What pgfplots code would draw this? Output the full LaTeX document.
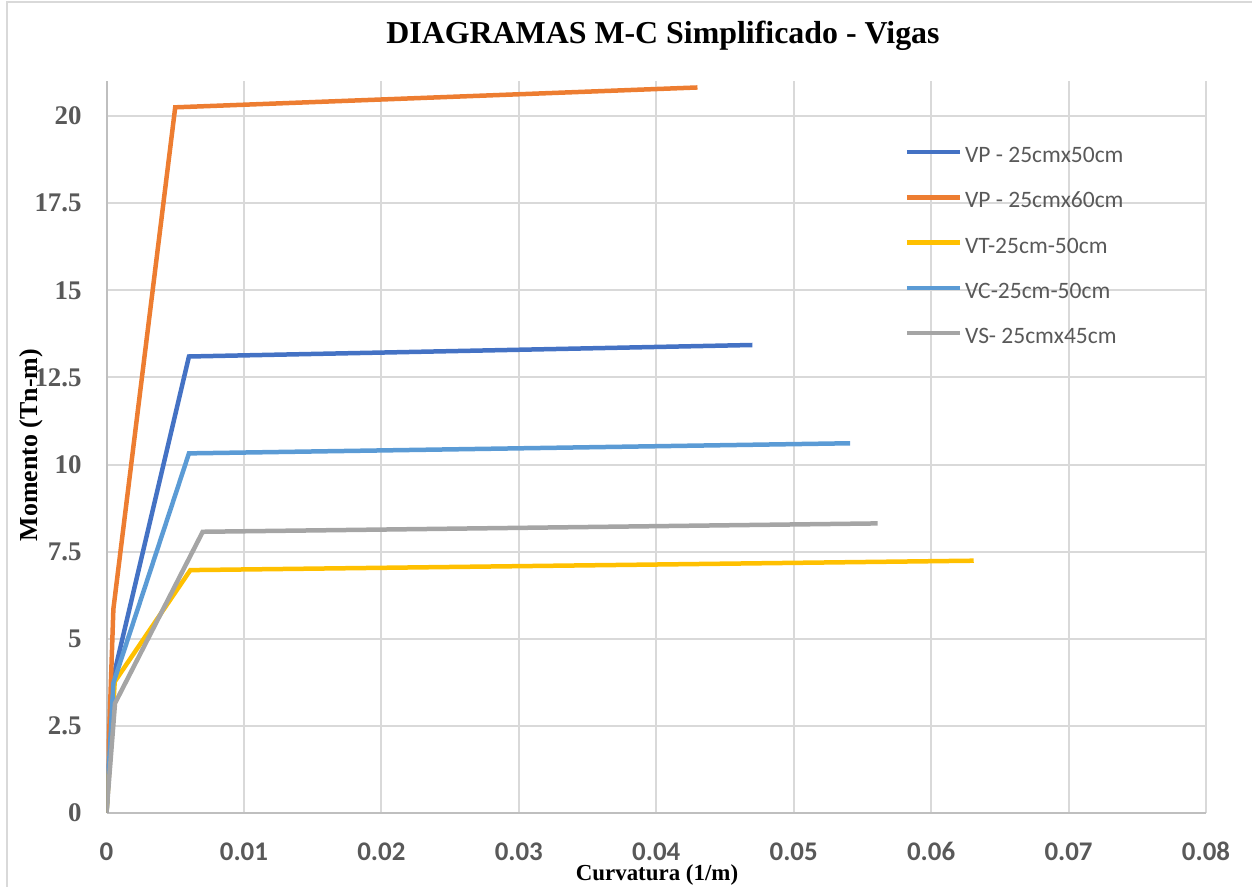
\documentclass[border=0pt]{standalone}
\usepackage{pgfplots}
\pgfplotsset{compat=1.18}
\usepackage{fontspec}
\setmainfont{Liberation Serif}
\newfontfamily\calibri{Carlito}

\definecolor{sblue}{HTML}{4472C4}
\definecolor{sorange}{HTML}{ED7D31}
\definecolor{syellow}{HTML}{FFC000}
\definecolor{slblue}{HTML}{5B9BD5}
\definecolor{sgray}{HTML}{A5A5A5}
\definecolor{gridc}{HTML}{D9D9D9}
\definecolor{axisc}{HTML}{BFBFBF}
\definecolor{tickc}{HTML}{595959}

\begin{document}
\begin{tikzpicture}
\path[use as bounding box] (0,0) rectangle (626bp,443.5bp);
% chart frame
\draw[gridc, line width=1bp] (3.5bp,0) -- (3.5bp,442.5bp) -- (626bp,442.5bp);

\begin{axis}[
  at={(53.25bp,37bp)}, anchor=south west,
  scale only axis, width=549.75bp, height=365.9bp,
  xmin=0, xmax=0.08, ymin=0, ymax=21,
  xtick={0,0.01,0.02,0.03,0.04,0.05,0.06,0.07,0.08},
  xticklabels={0,0.01,0.02,0.03,0.04,0.05,0.06,0.07,0.08},
  ytick={0,2.5,5,7.5,10,12.5,15,17.5,20},
  yticklabels={0,2.5,5,7.5,10,12.5,15,17.5,20},
  /pgf/number format/assume math mode=true,
  major tick length=0pt,
  axis lines=left,
  axis line style={-, draw=axisc, line width=1bp},
  grid=major,
  major grid style={draw=gridc, line width=1bp},
  xticklabel style={font=\calibri\bfseries\fontsize{13.5}{16}\selectfont, text=tickc, anchor=north, inner sep=0pt, yshift=-14.5bp},
  yticklabel style={font=\bfseries\fontsize{13.5}{16}\selectfont, text=tickc, anchor=east, inner sep=0pt, xshift=-12.25bp},
  every axis plot/.append style={line width=2.25bp},
  legend image code/.code={\draw[#1] (0bp,2.7bp) -- (26.5bp,2.7bp);},
  legend cell align=left,
  legend style={draw=none, fill=none, at={(0.7255,0.9114)}, anchor=north west,
    inner sep=0pt, row sep=11.65bp, column sep=1.5bp,
    font=\calibri\fontsize{11.8}{14}\selectfont, text=tickc,
    nodes={inner sep=0pt, text height=8bp, text depth=3bp}},
]
\addplot[sblue] coordinates {(0,0) (0.0005,3.9) (0.006,13.1) (0.047,13.43)};
\addlegendentry{VP - 25cmx50cm}
\addplot[sorange] coordinates {(0,0) (0.0005,5.85) (0.005,20.25) (0.043,20.82)};
\addlegendentry{VP - 25cmx60cm}
\addplot[syellow] coordinates {(0,0) (0.0006,3.77) (0.0061,6.97) (0.0631,7.24)};
\addlegendentry{VT-25cm-50cm}
\addplot[slblue] coordinates {(0,0) (0.0005,3.73) (0.006,10.32) (0.0541,10.61)};
\addlegendentry{VC-25cm-50cm}
\addplot[sgray] coordinates {(0,0) (0.00062,3.15) (0.007,8.07) (0.0561,8.31)};
\addlegendentry{VS- 25cmx45cm}
\end{axis}

\node[anchor=base, inner sep=0pt, font=\bfseries\fontsize{16}{19}\selectfont] at (331.5bp,421.5bp) {DIAGRAMAS M-C Simplificado - Vigas};
\node[anchor=base, inner sep=0pt, font=\bfseries\fontsize{11.5}{14}\selectfont] at (328.5bp,3.5bp) {Curvatura (1/m)};
\node[anchor=base, inner sep=0pt, rotate=90, font=\bfseries\fontsize{13}{15}\selectfont] at (18.5bp,221bp) {Momento (Tn-m)};
\end{tikzpicture}
\end{document}
